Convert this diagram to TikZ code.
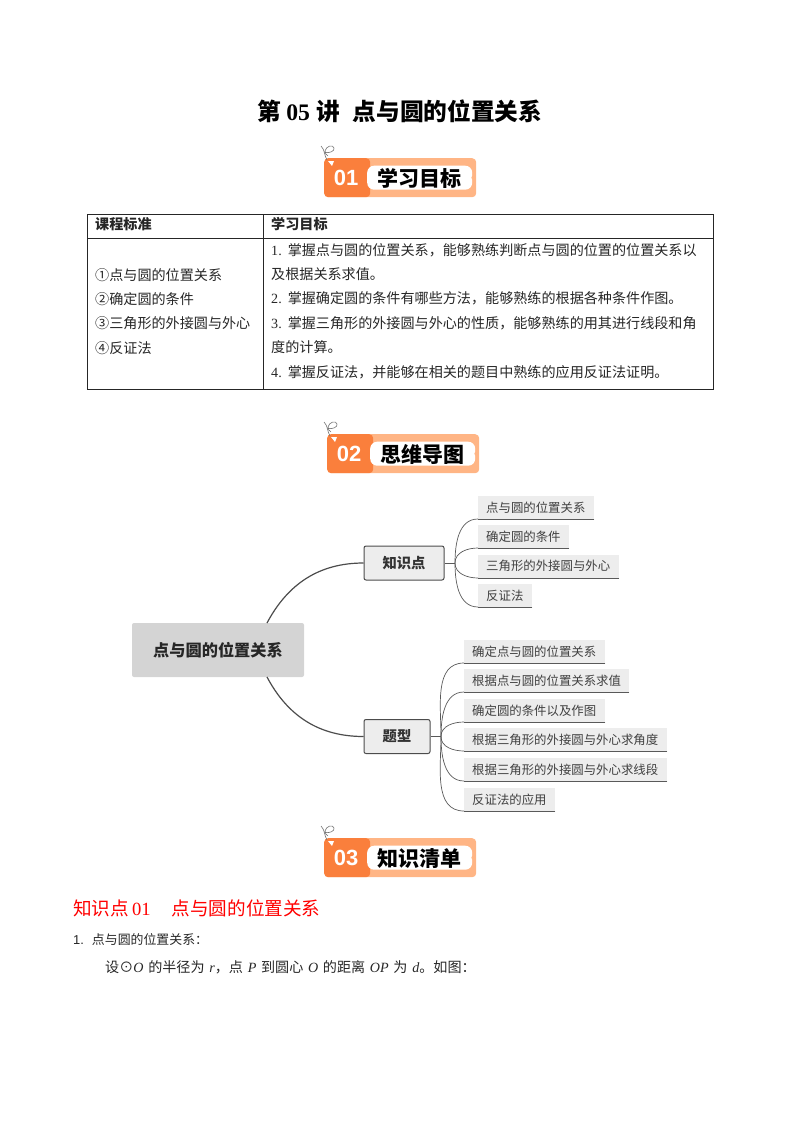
\documentclass[tikz,border=0pt]{standalone}
\usepackage{fontspec}
\usepackage{tikz}
\setmainfont{Liberation Serif}
\newfontfamily\cjk{Noto Sans CJK SC}
\newfontfamily\latf{Liberation Serif}
\newfontfamily\lats{Liberation Sans}
\newcommand{\setfs}[1]{\fontsize{#1}{#1}\selectfont}
\newcommand{\iv}[1]{\hspace{4.7pt}{\latf\itshape #1}\hspace{4.7pt}}
\definecolor{bandark}{HTML}{FA7F3C}
\definecolor{banlight}{HTML}{FFB585}
\begin{document}
\begin{tikzpicture}[x=1pt,y=-1pt,
    	thin,txt/.style={anchor=west,inner sep=0pt,yshift=-1.5pt,text height=.94em,text depth=.06em,text=black!85,font=\cjk\setfs{14.1}},
    	root node/.style={rectangle,rounded corners=2pt,fill=black!17,minimum width=172pt,minimum height=54pt,font=\cjk\bfseries\setfs{16.2},text=black!85},
    	main node/.style={rectangle,rounded corners=2pt,draw=black!70,line width=1pt,fill=black!7,minimum height=34pt,font=\cjk\bfseries\setfs{14.3},text=black!80},
    	leaf node/.style={anchor=south west,rectangle,fill=black!7,minimum height=23pt,inner sep=0pt,align=left,text=black!75,font=\cjk\setfs{12.4}},
    	link/.style={draw=black!70,line width=1.2pt},
    	twig/.style={draw=black!65,line width=.7pt}]
    	\useasboundingbox (0,0) rectangle (800,1132);
    	
    	\node[anchor=center,inner sep=0pt,font=\cjk\bfseries\setfs{23.7},text=black] (title) at (400,111) {第\hspace{5pt}{\latf\bfseries 05}\hspace{6pt}讲\hspace{13pt}点与圆的位置关系};
    	
    	% banners
    	\foreach \n/\bx/\by/\ttl in {01/324/158/学习目标,02/327/434/思维导图,03/324/838/知识清单} {
    		\node[anchor=north west,rectangle,rounded corners=4pt,fill=banlight,minimum width=152pt,minimum height=39pt,inner sep=0pt] (ban\n) at (\bx,\by) {};
    		\node[anchor=west,rectangle,rounded corners=4pt,fill=bandark,minimum width=46pt,minimum height=39pt,inner sep=0pt] (num\n) at (ban\n.west) {};
    		\node[anchor=east,rectangle,rounded corners=7pt,fill=white,minimum width=105pt,minimum height=24pt,inner sep=0pt,xshift=-4pt] (lab\n) at (ban\n.east) {};
    		\node[inner sep=0pt,font=\lats\bfseries\setfs{22},text=white] at ([xshift=22pt,yshift=0pt]ban\n.west) {\n};
    		\node[inner sep=0pt,font=\cjk\bfseries\setfs{21},text=black] at ([yshift=-1pt]lab\n) {\ttl};
    		\fill[banlight] ([xshift=1pt]lab\n.east) circle (2pt);
    		\begin{scope}[shift={(ban\n.north west)}]
    			\fill[white] (4,3) -- (10,3) -- (8,8) -- cycle;
    			\draw[black!55,line width=.6pt] (-3,-12) .. controls (1,-8) and (0,-3) .. (3,2);
    			\draw[black!55,line width=.6pt] (0,-6) .. controls (5,-4) and (11,-7) .. (10,-10) .. controls (9,-14) and (2,-12) .. (1,-7) .. controls (1,-5) and (2,-3) .. (4,-2);
    		\end{scope}
    	}
    	
    	% table
    	\node[anchor=north west,rectangle,draw=black!85,line width=.8pt,minimum width=626pt,minimum height=175pt,inner sep=0pt] (tab) at (87,214) {};
    	\coordinate (hl) at (87,238);
    	\coordinate (hr) at (713,238);
    	\coordinate (ct) at (263,214);
    	\coordinate (cb) at (263,389);
    	\draw[black!85,line width=.8pt] (hl) -- (hr);
    	\draw[black!85,line width=.8pt] (ct) -- (cb);
    	\node[txt,font=\cjk\bfseries\setfs{14.1}] (h1) at (95,224) {课程标准};
    	\node[txt,font=\cjk\bfseries\setfs{14.1}] (h2) at (271,224) {学习目标};
    	\foreach \i/\ty/\t in {1/275/①点与圆的位置关系,2/299/②确定圆的条件,3/323/③三角形的外接圆与外心,4/348/④反证法}
    		\node[txt] (std\i) at (95,\ty) {\t};
    	\node[txt] (g1) at (271,250) {{\latf 1.}\hspace{6pt}掌握点与圆的位置关系，能够熟练判断点与圆的位置的位置关系以};
    	\node[txt] (g1b) at (271,274) {及根据关系求值。};
    	\node[txt] (g2) at (271,298) {{\latf 2.}\hspace{6pt}掌握确定圆的条件有哪些方法，能够熟练的根据各种条件作图。};
    	\node[txt] (g3) at (271,323) {{\latf 3.}\hspace{6pt}掌握三角形的外接圆与外心的性质，能够熟练的用其进行线段和角};
    	\node[txt] (g3b) at (271,347) {度的计算。};
    	\node[txt] (g4) at (271,372) {{\latf 4.}\hspace{6pt}掌握反证法，并能够在相关的题目中熟练的应用反证法证明。};
    	
    	% mind map
    	\node[root node] (root) at (218,650) {点与圆的位置关系};
    	\node[main node,minimum width=80pt] (know) at (404,563) {知识点};
    	\node[main node,minimum width=66pt] (kind) at (397,736.5) {题型};
    	\coordinate (rootup) at (267,623);
    	\coordinate (rootdn) at (267,677);
    	\coordinate (kj) at (455,563);
    	\coordinate (tj) at (441,736.5);
    	\path[link] (rootup) edge[out=62,in=180] (know.west);
    	\path[link] (rootdn) edge[out=-62,in=180] (kind.west);
    	\path[twig] (know.east) edge (kj);
    	\path[twig] (kind.east) edge (tj);
    	
    	\foreach \i/\ly/\lw/\t in {1/519/116/点与圆的位置关系,2/548/91/确定圆的条件,3/578/141/三角形的外接圆与外心,4/607/54/反证法} {
    		\node[leaf node,text width=\lw pt] (ka\i) at (478,\ly) {\hspace*{8pt}\t};
    		\draw[twig] (ka\i.south east) -- (ka\i.south west);
    		\draw[twig] (kj) to[out=\ifnum\i<3 90\else -90\fi,in=180] (ka\i.south west);
    	}
    	\foreach \i/\ly/\lw/\t in {1/663/141/确定点与圆的位置关系,2/692/165/根据点与圆的位置关系求值,3/722/141/确定圆的条件以及作图,4/751/203/根据三角形的外接圆与外心求角度,5/781/203/根据三角形的外接圆与外心求线段,6/811/91/反证法的应用} {
    		\node[leaf node,text width=\lw pt] (ty\i) at (464,\ly) {\hspace*{8pt}\t};
    		\draw[twig] (ty\i.south east) -- (ty\i.south west);
    		\draw[twig] (tj) to[out=\ifnum\i<4 90\else -90\fi,in=180] (ty\i.south west);
    	}
    	
    	% text below
    	\node[txt,text=red,font=\cjk\setfs{18.6}] (sec) at (73,909.5) {知识点\hspace{3pt}{\latf 01}\hspace{21pt}点与圆的位置关系};
    	\node[txt,font=\cjk\setfs{12.9}] (item) at (73,939) {{\lats 1.}\hspace{8pt}点与圆的位置关系：};
    	\node[txt] (para) at (105,967) {设⊙{\latf\itshape O}\hspace{4.7pt}的半径为\hspace{4.7pt}{\latf\itshape r}，点\iv{P}到圆心\iv{O}的距离\iv{OP}为\hspace{4.7pt}{\latf\itshape d}。如图：};
    	\end{tikzpicture}
\end{document}
